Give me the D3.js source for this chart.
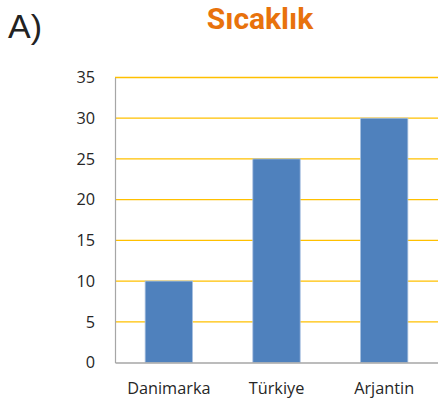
<!DOCTYPE html>
<html>
<head>
<meta charset="utf-8">
<script src="https://cdn.jsdelivr.net/npm/d3@7"></script>
<style>
  html, body { margin: 0; padding: 0; background: #fff; }
  svg { display: block; }
  .tick text { font-family: "Open Sans", sans-serif; font-size: 16.3px; fill: #262626; }
</style>
</head>
<body>
<svg id="chart" width="438" height="405"></svg>
<script>
// Temperature by country
const categories = ["Danimarka", "Türkiye", "Arjantin"];
const values = [10, 25, 30];
const yTicks = [0, 5, 10, 15, 20, 25, 30, 35];

const svg = d3.select("#chart");
const margin = { left: 115, right: 0, top: 77.5, bottom: 42.5 };
const W = 438, H = 405;

const x = d3.scaleBand()
  .domain(categories)
  .range([margin.left, W - margin.right])
  .paddingInner(0.56)
  .paddingOuter(0.28);

const y = d3.scaleLinear()
  .domain([0, 35])
  .range([H - margin.bottom, margin.top]);

// panel label
svg.append("text")
  .attr("x", 8).attr("y", 37.5)
  .style("font-family", "'Liberation Sans', Arial, sans-serif")
  .style("font-size", "34px")
  .attr("fill", "#222")
  .text("A)");

// title
svg.append("text")
  .attr("x", 260).attr("y", 28.5)
  .attr("text-anchor", "middle")
  .style("font-family", "Roboto, sans-serif")
  .style("font-weight", 700)
  .style("font-size", "30px")
  .attr("fill", "#E8720C")
  .text("Sıcaklık");

// gridlines
svg.append("g")
  .selectAll("line")
  .data(yTicks.filter(d => d > 0))
  .join("line")
  .attr("x1", margin.left).attr("x2", W)
  .attr("y1", d => y(d)).attr("y2", d => y(d))
  .attr("stroke", "#FFC000")
  .attr("stroke-width", 1.3);

// bars
svg.append("g")
  .selectAll("rect")
  .data(categories.map((c, i) => ({ c, v: values[i] })))
  .join("rect")
  .attr("x", d => x(d.c))
  .attr("width", x.bandwidth())
  .attr("y", d => y(d.v))
  .attr("height", d => y(0) - y(d.v))
  .attr("fill", "#4F81BD")
  .attr("stroke", "#A9C1E0")
  .attr("stroke-width", 0.8);

// y axis
const yAxis = d3.axisLeft(y).tickValues(yTicks).tickSize(0).tickPadding(20);
const gy = svg.append("g")
  .attr("transform", `translate(${margin.left},0)`)
  .call(yAxis);
gy.select(".domain").attr("stroke", "#A6A6A6").attr("stroke-width", 1.2);

// x axis
const xAxis = d3.axisBottom(x).tickSize(0).tickPadding(20);
const gx = svg.append("g")
  .attr("transform", `translate(0,${y(0)})`)
  .call(xAxis);
gx.select(".domain").attr("stroke", "#A6A6A6").attr("stroke-width", 1.5);
</script>
</body>
</html>
